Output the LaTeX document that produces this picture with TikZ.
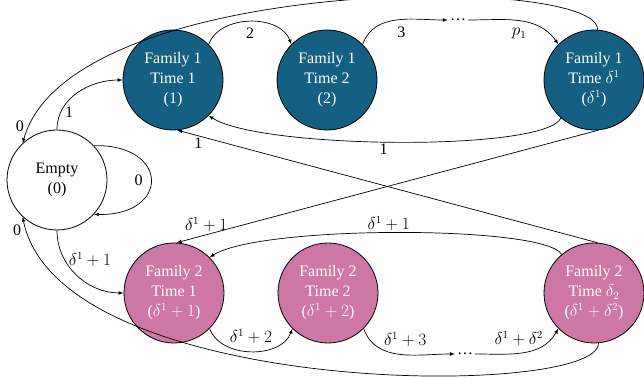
\documentclass[tikz,border=0pt]{standalone}
\usepackage{fontspec}
\setmainfont{Liberation Serif}
\usepackage{amsmath}
\usepackage{tikz}
\usetikzlibrary{shapes}

\definecolor{famone}{HTML}{156082}
\definecolor{famtwo}{HTML}{CC77A6}

\tikzset{
  state/.style={circle, draw=black, line width=0.8pt, minimum size=100pt, inner sep=0pt,
    align=center, font=\fontsize{16}{20}\selectfont},
  fam1/.style={state, fill=famone, text=white},
  fam2/.style={state, fill=famtwo, text=white},
  empty/.style={state, fill=white, text=black},
  lbl/.style={font=\fontsize{16}{18}\selectfont, inner sep=2pt},
  trans/.style={->, line width=0.7pt},
}

\begin{document}
\begin{tikzpicture}[x=1pt, y=1pt, >=latex]

  \useasboundingbox (0, 0) rectangle (644, 377);

  \node[empty] (E) at (57, 197) {Empty\\(0)};

  \node[fam1] (A1) at (173, 297) {Family 1\\Time 1\\(1)};
  \node[fam1] (A2) at (327, 297) {Family 1\\Time 2\\(2)};
  \node[fam1] (Ad) at (594, 297) {Family 1\\Time $\delta^1$\\($\delta^1$)};
  \node[lbl] (dA) at (458, 357) {\dots};

  \node[fam2] (B1) at (174, 84) {Family 2\\Time 1\\($\delta^1+1$)};
  \node[fam2] (B2) at (328, 84) {Family 2\\Time 2\\($\delta^1+2$)};
  \node[fam2] (Bd) at (594, 84) {Family 2\\Time $\delta_2$\\($\delta^1+\delta^2$)};
  \node[lbl] (dB) at (465, 23) {\dots};

  % family 1 chain
  \draw[trans] (E.north) to[out=90, in=180] node[lbl, pos=0.2, right=2pt]{1} (A1.west); % E->A1
  \draw[trans] (A1.45) to[out=70, in=110] node[lbl, below=4pt]{2} (A2.135); % A1->A2
  \draw[trans] (A2.45) to[out=70, in=180] node[lbl, pos=0.55, below=5pt]{3} (dA.west); % A2->...
  \draw[trans] (dA.east) to[out=0, in=125] node[lbl, pos=0.5, below=5pt]{$p_1$} (Ad.135); % ...->Ad
  \draw[trans] (Ad.229) .. controls (545, 225) and (260, 228) .. node[lbl, pos=0.53, below]{1} (A1.-45); % Ad->A1
  \draw[trans] (Ad.86) .. controls (600, 403) and (70, 403) .. node[lbl, pos=0.965, left=3pt]{0} (E.133); % Ad->E

  % crossing lines
  \draw[trans] (Ad.-85) -- node[lbl, pos=0.93, above=1pt]{$\delta^1+1$} (B1.87); % Ad->B1
  \draw[trans] (Bd.86) -- node[lbl, pos=0.95, below]{1} (A1.-85); % Bd->A1

  % empty
  \draw[trans] (E.43) .. controls (170, 233) and (170, 161) .. node[lbl, left=6pt]{0} (E.-43); % E->E
  \draw[trans] (E.south) to[out=-90, in=180] node[lbl, pos=0.3, right=2pt]{$\delta^1+1$} (B1.west); % E->B1

  % family 2 chain
  \draw[trans] (B1.-45) to[out=-70, in=-110] node[lbl, above=5pt]{$\delta^1+2$} (B2.-135); % B1->B2
  \draw[trans] (B2.-45) to[out=-70, in=180] node[lbl, pos=0.55, above=6pt]{$\delta^1+3$} (dB.west); % B2->...
  \draw[trans] (dB.east) to[out=0, in=-120] node[lbl, pos=0.45, above=5pt]{$\delta^1+\delta^2$} (Bd.-135); % ...->Bd
  \draw[trans] (Bd.130) .. controls (545, 152) and (260, 152) .. node[lbl, pos=0.52, above]{$\delta^1+1$} (B1.45); % Bd->B1
  \draw[trans] (Bd.-85) .. controls (600, -22) and (60, -22) .. node[lbl, pos=0.975, left=3pt]{0} (E.227); % Bd->E

\end{tikzpicture}
\end{document}
